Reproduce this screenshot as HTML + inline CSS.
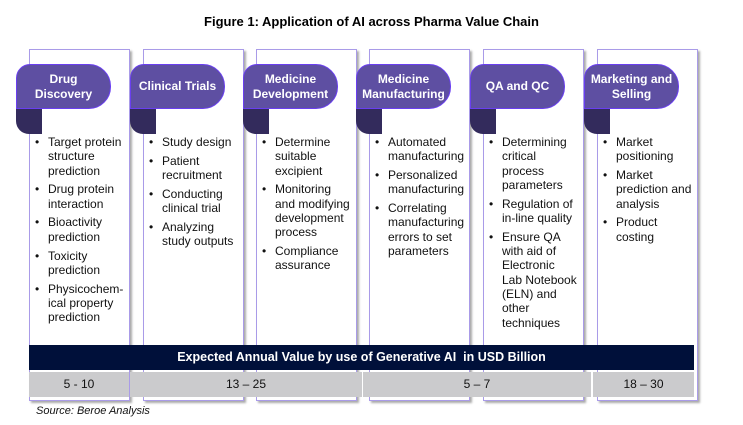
<!DOCTYPE html>
<html><head><meta charset="utf-8"><style>
body{margin:0;width:743px;height:425px;background:#fff;font-family:"Liberation Sans",Arial,sans-serif;position:relative;overflow:hidden}
.t{position:absolute;top:14px;left:0;width:743px;text-align:center;font-weight:bold;font-size:13px;color:#000}
.card{position:absolute;top:49px;width:99px;height:350px;border:1px solid #a99be8;background:#fff;box-shadow:2px 2px 2px #aaa}
.fold{position:absolute;top:100px;width:26px;height:34px;background:#332b5c;border-radius:0 0 0 13px}
.ban{position:absolute;top:64px;width:93px;height:43px;background:#5e4fa2;border:1px solid #6a3ff0;border-radius:14px 22px 22px 0;color:#fff;font-weight:bold;font-size:12px;line-height:15px;display:flex;align-items:center;justify-content:center;text-align:center}
ul{position:absolute;top:135px;margin:0;padding:0 0 0 18px;list-style:none;font-size:12px;line-height:14.3px;color:#111;width:76px}
li{position:relative;margin-bottom:4.5px}
li:before{content:"•";position:absolute;left:-13px}
.bar{position:absolute;left:29px;top:345px;width:665px;height:25px;background:#00103a;color:#fff;font-weight:bold;font-size:12.5px;line-height:25px;text-align:center}
.g{position:absolute;top:372px;height:25px;background:#cbcbcd;font-size:12px;line-height:25px;text-align:center;color:#111}
.src{position:absolute;left:36px;top:405px;font-size:11px;font-style:italic;color:#111}
</style></head><body>
<div class="t">Figure 1: Application of AI across Pharma Value Chain</div>

<div class="card" style="left:29px"></div>
<div class="card" style="left:143px"></div>
<div class="card" style="left:256px"></div>
<div class="card" style="left:369px"></div>
<div class="card" style="left:483px"></div>
<div class="card" style="left:597px"></div>

<div class="fold" style="left:16px"></div><div class="ban" style="left:16px">Drug<br>Discovery</div>
<div class="fold" style="left:130px"></div><div class="ban" style="left:130px">Clinical Trials</div>
<div class="fold" style="left:243px"></div><div class="ban" style="left:243px">Medicine<br>Development</div>
<div class="fold" style="left:356px"></div><div class="ban" style="left:356px">Medicine<br>Manufacturing</div>
<div class="fold" style="left:470px"></div><div class="ban" style="left:470px">QA and QC</div>
<div class="fold" style="left:584px"></div><div class="ban" style="left:584px">Marketing and<br>Selling</div>

<ul style="left:30px"><li>Target protein structure prediction</li><li>Drug protein interaction</li><li>Bioactivity prediction</li><li>Toxicity prediction</li><li>Physicochem-<br>ical property prediction</li></ul>
<ul style="left:144px"><li>Study design</li><li>Patient recruitment</li><li>Conducting clinical trial</li><li>Analyzing study outputs</li></ul>
<ul style="left:257px"><li>Determine suitable excipient</li><li>Monitoring and modifying development process</li><li>Compliance assurance</li></ul>
<ul style="left:370px;width:80px"><li>Automated manufacturing</li><li>Personalized manufacturing</li><li>Correlating manufacturing errors to set parameters</li></ul>
<ul style="left:484px"><li>Determining critical process parameters</li><li>Regulation of in-line quality</li><li>Ensure QA with aid of Electronic Lab Notebook (ELN) and other techniques</li></ul>
<ul style="left:598px"><li>Market positioning</li><li>Market prediction and analysis</li><li>Product costing</li></ul>

<div class="bar">Expected Annual Value by use of Generative AI&nbsp; in USD Billion</div>
<div class="g" style="left:29px;width:100px">5 - 10</div>
<div class="g" style="left:130px;width:232px">13 – 25</div>
<div class="g" style="left:363px;width:228px">5 – 7</div>
<div class="g" style="left:593px;width:101px">18 – 30</div>
<div class="src">Source: Beroe Analysis</div>
</body></html>
